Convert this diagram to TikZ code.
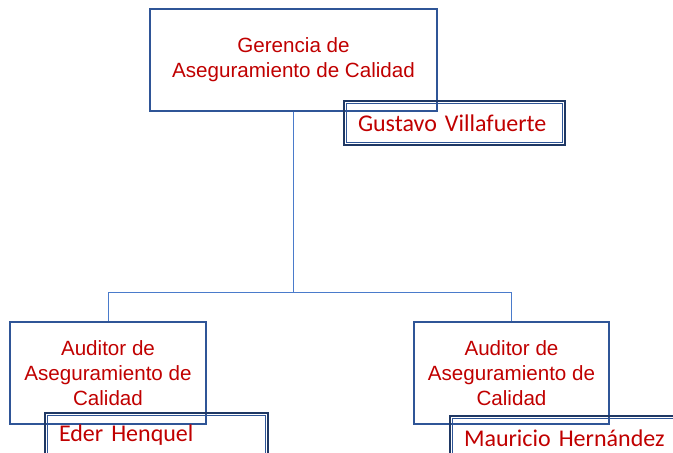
\documentclass[tikz,border=0pt]{standalone}
\usepackage{fontspec}
\setmainfont{Liberation Sans}
\newfontfamily\namefont{Carlito}
\definecolor{txtred}{HTML}{C00000}
\definecolor{boxblue}{HTML}{2F5597}
\definecolor{navy}{HTML}{1F3864}
\definecolor{connblue}{HTML}{4A7BCB}
\begin{document}
\begin{tikzpicture}[x=1pt,y=-1pt,
  rolebox/.style={draw=boxblue, line width=1.2pt, minimum width=#1, minimum height=102pt,
    inner sep=0pt, align=center, text=txtred, font=\fontsize{20.6}{25}\selectfont},
  namebox/.style={draw=navy, line width=2.6pt, minimum height=44pt, text width=#1,
    inner xsep=14pt, inner ysep=0pt, align=left, text=txtred,
    font=\namefont\fontsize{24}{28}\selectfont},
  conn/.style={draw=connblue, line width=0.8pt}]
\useasboundingbox (0,0) rectangle (673,453);
\clip (0,0) rectangle (673,453);
% role boxes
\node[rolebox=287pt] (g) at (293.5,60) {Gerencia de\\Aseguramiento de Calidad};
\node[rolebox=196pt] (a1) at (108,373) {Auditor de\\Aseguramiento de\\Calidad};
\node[rolebox=195pt] (a2) at (511.5,373) {Auditor de\\Aseguramiento de\\Calidad};
% connectors
\coordinate (j) at (293.5,292);
\draw[conn] (g.south) -- (j);
\draw[conn] (j) -| (a1.north);
\draw[conn] (j) -| (a2.north);
% name boxes
\node[namebox=193pt] (n0) at (454.5,123) {Gustavo Villafuerte};
\node[namebox=195pt] (n1) at (156.5,435) {Eder Henquel};
\node[namebox=202pt] (n2) at (565,438) {Mauricio Hernández};
\foreach \n in {n0,n1,n2}{
  \draw[boxblue, line width=0.9pt] ([shift={(3.4pt,-3.4pt)}]\n.north west) rectangle ([shift={(-3.4pt,3.4pt)}]\n.south east);
}
\end{tikzpicture}
\end{document}
